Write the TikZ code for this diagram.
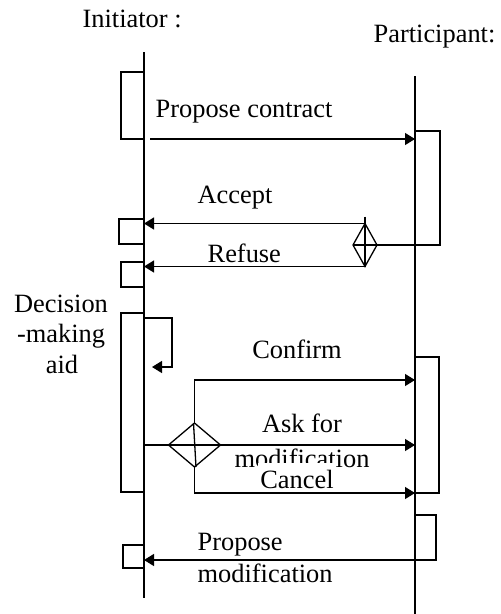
\documentclass[tikz,border=0pt]{standalone}
\usepackage{fontspec}
\setmainfont{Liberation Serif}
\usetikzlibrary{arrows.meta,shapes.geometric}
\begin{document}
\begin{tikzpicture}[x=1pt,y=-1pt,
  line width=1.3pt,
  lbl/.style={font=\fontsize{26.4}{30}\selectfont, inner sep=0pt},
  act/.style={draw, rectangle, inner sep=0pt, outer sep=0pt, anchor=north west},
  msg/.style={-{Triangle[length=10pt,width=12pt]}},
  choice/.style={draw, diamond, inner sep=0pt, outer sep=0pt},
]
\useasboundingbox (0,0) rectangle (501,614);

% lifelines
\coordinate (I-top) at (144,52);
\coordinate (I-bot) at (144,598);
\coordinate (P-top) at (415,76);
\coordinate (P-bot) at (415,614);
\draw (I-top) -- (I-bot);
\draw (P-top) -- (P-bot);

% role headers
\node[lbl, anchor=base west] (initiator) at (82,27) {Initiator :};
\node[lbl, anchor=base west] (participant) at (373,42) {Participant:};

% activation boxes, initiator side
\node[act, minimum width=23pt, minimum height=67pt]  (i1) at (121,72)  {};
\node[act, minimum width=25pt, minimum height=25pt]  (i2) at (119,219) {};
\node[act, minimum width=23pt, minimum height=25pt]  (i3) at (121,262) {};
\node[act, minimum width=23pt, minimum height=179pt] (i4) at (121,313) {};
\node[act, minimum width=21pt, minimum height=23pt]  (i5) at (123,545) {};

% activation boxes, participant side
\node[act, minimum width=25pt, minimum height=114pt] (p1) at (415,131) {};
\node[act, minimum width=24pt, minimum height=136pt] (p2) at (415,357) {};
\node[act, minimum width=21pt, minimum height=45pt]  (p3) at (415,515) {};

% propose contract
\coordinate (pc-start) at (150,139);
\draw[msg] (pc-start) -- (pc-start -| P-top);
\node[lbl, anchor=base west] (pc-lbl) at (155,117) {Propose contract};

% accept / refuse branch
\node[choice, minimum width=24pt, minimum height=43pt] (d1) at (365,245) {};
\draw ([yshift=7pt]d1.north) -- (d1.south);
\draw (d1.west) -- (d1.east);
\draw (d1.east) -- (p1.south west);
\draw[msg] (d1.north) -- (d1.north -| I-top);
\draw[msg] (d1.south) -- (d1.south -| I-top);
\node[lbl, anchor=base west] (acc-lbl) at (197,203) {Accept};
\node[lbl, anchor=base west] (ref-lbl) at (207,262) {Refuse};

% decision-making aid (self call)
\node[lbl, anchor=base] (dm1) at (61,312) {Decision};
\node[lbl, anchor=base] (dm2) at (61,342) {-making};
\node[lbl, anchor=base] (dm3) at (62,373) {aid};
\coordinate (self-a) at (144,318);
\coordinate (self-b) at (152,367);
\draw[msg] (self-a) -| (172,367) -- (self-b);

% confirm / modify / cancel branch
\node[choice, minimum width=52pt, minimum height=44pt] (d2) at (194.5,445) {};
\draw ([xshift=-1pt]d2.north) -- ([xshift=1.5pt]d2.south);
\draw (d2.west) -- (d2.east);
\draw (d2.west -| I-top) -- (d2.west);
\coordinate (cf-y) at (0,380);
\coordinate (cn-y) at (0,493);
\draw[msg] (d2.north) |- (cf-y -| P-top);
\draw[msg] (d2.east) -- (d2.east -| P-top);
\node[lbl, anchor=base] (cf-lbl) at (297,358) {Confirm};
\node[lbl, anchor=base] (ask-lbl) at (302,432) {Ask for};
\node[lbl, anchor=base] (mod-lbl) at (302,467) {modification};
\node[lbl, anchor=base, fill=white, text height=25pt, text depth=1pt, inner xsep=2pt] (cn-lbl) at (297,488) {Cancel};
\draw[msg] (d2.south) |- (cn-y -| P-top);

% propose modification
\draw[msg] (p3.south east) -- (p3.south east -| I-top);
\node[lbl, anchor=base west] (pm-lbl1) at (197,550) {Propose};
\node[lbl, anchor=base west] (pm-lbl2) at (197,582) {modification};
\end{tikzpicture}
\end{document}
